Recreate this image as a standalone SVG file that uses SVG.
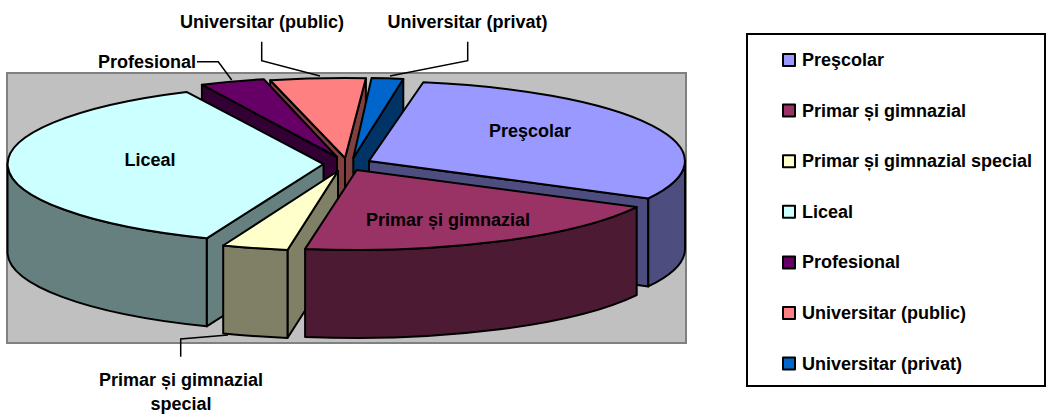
<svg xmlns="http://www.w3.org/2000/svg" width="1053" height="415" viewBox="0 0 1053 415">
<style>
.e{stroke:#000;stroke-width:2;stroke-linejoin:round}
.t{font-family:"Liberation Sans",Arial,sans-serif;font-weight:bold;font-size:18px;fill:#000}
.m{text-anchor:middle}
.lead{fill:none;stroke:#000;stroke-width:1.5}
</style>
<rect id="plot-area" x="7" y="73" width="679" height="270" fill="#c0c0c0" stroke="#808080" stroke-width="2"/>

<g id="slice-universitar-public">
<path class="e" fill="#804040" d="M345 158 L270.2 80.3 L270.2 168.3 L345 246 Z"/>
<path class="e" fill="#804040" d="M345 158 L365.9 78.2 L365.9 166.2 L345 246 Z"/>
<path class="e" fill="#ff8080" d="M345 158 L270.2 80.3 A316 80 0 0 1 365.9 78.2 Z"/>
</g>
<g id="slice-universitar-privat">
<path class="e" fill="#003366" d="M353.3 158 L403.3 79 L403.3 167 L353.3 246 Z"/>
<path class="e" fill="#0066cc" d="M353.3 158 L371.5 78.1 A316 80 0 0 1 403.3 79 Z"/>
</g>
<g id="slice-profesional">
<path class="e" fill="#330033" d="M337 157 L201.9 84.7 L201.9 172.7 L337 245 Z"/>
<path class="e" fill="#660066" d="M337 157 L201.9 84.7 A316 80 0 0 1 263.8 79.2 Z"/>
</g>
<g id="slice-liceal">
<path class="e" fill="#668080" d="M323.5 164 L206.7 238.3 L206.7 326.3 L323.5 252 Z"/>
<path class="e" fill="#668080" d="M206.7 238.3 A316 80 0 0 1 7.5 164 L7.5 252 A316 80 0 0 0 206.7 326.3 Z"/>
<path class="e" fill="#ccffff" d="M323.5 164 L206.7 238.3 A316 80 0 0 1 186.5 91.9 Z"/>
<text class="t m" x="150" y="166">Liceal</text>
</g>
<g id="slice-prescolar">
<path class="e" fill="#4d4d80" d="M369 161 L648.3 198.4 L648.3 286.4 L369 249 Z"/>
<path class="e" fill="#4d4d80" d="M685 161 A316 80 0 0 1 648.3 198.4 L648.3 286.4 A316 80 0 0 0 685 249 Z"/>
<path class="e" fill="#9999ff" d="M369 161 L423.3 82.2 A316 80 0 0 1 648.3 198.4 Z"/>
<text class="t m" x="530" y="137">Preşcolar</text>
</g>
<g id="slice-primar-gimnazial-special">
<path class="e" fill="#808066" d="M338 171 L287.5 250 L287.5 338 L338 259 Z"/>
<path class="e" fill="#808066" d="M287.5 250 A316 80 0 0 1 223.2 245.5 L223.2 333.5 A316 80 0 0 0 287.5 338 Z"/>
<path class="e" fill="#ffffcc" d="M338 171 L287.5 250 A316 80 0 0 1 223.2 245.5 Z"/>
</g>
<g id="slice-primar-gimnazial">
<path class="e" fill="#4d1a33" d="M636.7 207.1 A316 80 0 0 1 305.1 248.9 L305.1 336.9 A316 80 0 0 0 636.7 295.1 Z"/>
<path class="e" fill="#993366" d="M356.7 170 L636.7 207.1 A316 80 0 0 1 305.1 248.9 Z"/>
<text class="t m" x="448" y="226">Primar și gimnazial</text>
</g>

<g id="connectors">
<polyline class="lead" points="197,61.7 218.3,61.7 231.7,80"/>
<polyline class="lead" points="261.7,41.7 261.7,60.7 320,76"/>
<polyline class="lead" points="467.7,41.7 467.7,60.7 390,76"/>
<polyline class="lead" points="180.7,356.7 180.7,339 228,335"/>
</g>

<g id="labels">
<text class="t" x="196" y="68" text-anchor="end">Profesional</text>
<text class="t m" x="262" y="28">Universitar (public)</text>
<text class="t m" x="467.5" y="28">Universitar (privat)</text>
<text class="t m" x="181" y="386">Primar și gimnazial</text>
<text class="t m" x="181" y="410">special</text>
</g>

<g id="legend">
<rect x="747" y="34" width="298" height="352" fill="#fff" stroke="#000" stroke-width="2"/>
<rect class="e" x="783" y="54" width="12" height="12" fill="#9999ff"/>
<text class="t" x="802" y="66">Preşcolar</text>
<rect class="e" x="783" y="104.6" width="12" height="12" fill="#993366"/>
<text class="t" x="802" y="116.6">Primar și gimnazial</text>
<rect class="e" x="783" y="155.2" width="12" height="12" fill="#ffffcc"/>
<text class="t" x="802" y="167.2">Primar și gimnazial special</text>
<rect class="e" x="783" y="205.8" width="12" height="12" fill="#ccffff"/>
<text class="t" x="802" y="217.8">Liceal</text>
<rect class="e" x="783" y="256.4" width="12" height="12" fill="#660066"/>
<text class="t" x="802" y="268.4">Profesional</text>
<rect class="e" x="783" y="307" width="12" height="12" fill="#ff8080"/>
<text class="t" x="802" y="319">Universitar (public)</text>
<rect class="e" x="783" y="357.6" width="12" height="12" fill="#0066cc"/>
<text class="t" x="802" y="369.6">Universitar (privat)</text>
</g>
</svg>
